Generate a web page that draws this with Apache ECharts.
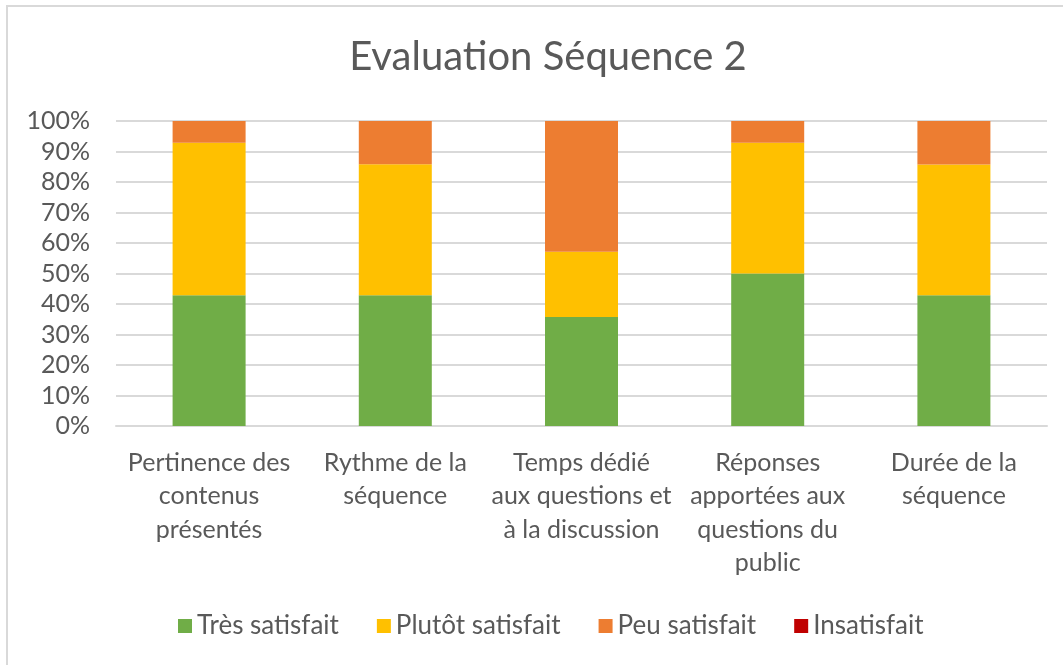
<!DOCTYPE html>
<html>
<head>
<meta charset="utf-8">
<script src="https://cdn.jsdelivr.net/npm/echarts@6/dist/echarts.min.js"></script>
<style>
html,body{margin:0;padding:0;background:#fff;}
#frame{position:absolute;left:6px;top:5px;width:1057px;height:660px;border-left:2px solid #d9d9d9;border-top:2px solid #d9d9d9;box-sizing:border-box;}
#chart{position:absolute;left:0;top:0;width:1063px;height:665px;}
</style>
</head>
<body>
<div id="frame"></div>
<div id="chart"></div>
<script>
const title = 'Evaluation Séquence 2';
const categories = [
  'Pertinence des\ncontenus\nprésentés',
  'Rythme de la\nséquence',
  'Temps dédié\naux questions et\nà la discussion',
  'Réponses\napportées aux\nquestions du\npublic',
  'Durée de la\nséquence'
];
const seriesNames = ['Très satisfait', 'Plutôt satisfait', 'Peu satisfait', 'Insatisfait'];
const tresSatisfait   = [42.9, 42.9, 35.7, 50.0, 42.9];
const plutotSatisfait = [50.0, 42.9, 21.4, 42.9, 42.8];
const peuSatisfait    = [7.1, 14.2, 42.9, 7.1, 14.3];
const insatisfait     = [0, 0, 0, 0, 0];
const yTicks = ['0%','10%','20%','30%','40%','50%','60%','70%','80%','90%','100%'];
const colors = ['#70ad47', '#ffc000', '#ed7d31', '#c00000'];

const FONT = 'Lato, "Open Sans", sans-serif';
const chart = echarts.init(document.getElementById('chart'));
const seriesData = [tresSatisfait, plutotSatisfait, peuSatisfait, insatisfait];
chart.setOption({
  animation: false,
  color: colors,
  title: {
    text: title,
    left: 543,
    top: 32,
    textAlign: 'center',
    textStyle: {fontFamily: FONT, fontSize: 40, fontWeight: 'normal', color: '#595959'}
  },
  legend: {
    data: seriesNames,
    left: 173,
    top: 608,
    itemWidth: 14,
    itemHeight: 14,
    itemGap: 38,
    icon: 'rect',
    textStyle: {fontFamily: FONT, fontSize: 26, color: '#595959'}
  },
  grid: {left: 116, right: 16, top: 121, bottom: 239, containLabel: false},
  xAxis: {
    type: 'category',
    data: categories,
    axisLine: {lineStyle: {color: '#d9d9d9', width: 2}},
    axisTick: {show: false},
    axisLabel: {fontFamily: FONT, fontSize: 25, color: '#595959', lineHeight: 33.5, margin: 20, interval: 0, align: 'center'}
  },
  yAxis: {
    type: 'value',
    min: 0, max: 100, interval: 10,
    axisLine: {show: false},
    axisTick: {show: false},
    splitLine: {lineStyle: {color: '#d9d9d9', width: 2}},
    axisLabel: {fontFamily: FONT, fontSize: 25, color: '#595959', margin: 26,
      formatter: v => yTicks[Math.round(v / 10)]}
  },
  series: seriesNames.map((n, i) => ({
    name: n,
    type: 'bar',
    stack: 'total',
    barWidth: 73,
    data: seriesData[i]
  }))
});
</script>
</body>
</html>
